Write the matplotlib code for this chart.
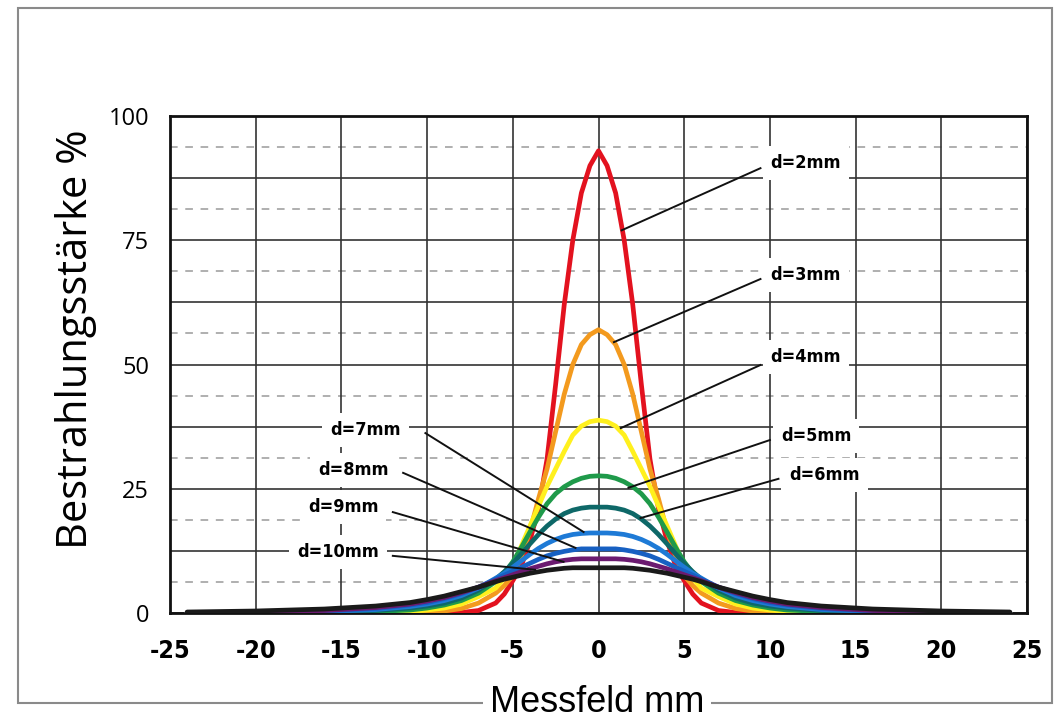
import numpy as np
import matplotlib.pyplot as plt
from matplotlib.patches import Rectangle

# Messfeld positions (mm), shared by all profiles
x_mm = [-24, -20, -16, -13, -11, -10, -9, -8, -7, -6, -5.5, -5, -4.5, -4, -3.5,
        -3, -2.5, -2, -1.5, -1, -0.5, 0, 0.5, 1, 1.5, 2, 2.5, 3, 3.5, 4, 4.5,
        5, 5.5, 6, 7, 8, 9, 10, 11, 13, 16, 20, 24]

# Bestrahlungsstaerke % for each distance d
d2 = [0, 0, 0, 0, 0, 0, 0, 0.1, 0.5, 2.0, 3.8, 6.5, 9.5, 14.5, 21,
      31, 46, 62, 75, 84.5, 90, 93, 90, 84.5, 75, 62, 46, 31, 21, 14.5, 9.5,
      6.5, 3.8, 2.0, 0.5, 0.1, 0, 0, 0, 0, 0, 0, 0]
d3 = [0, 0, 0, 0, 0.1, 0.2, 0.4, 0.9, 2, 4, 5.5, 7.5, 11.5, 16.5, 23,
      29, 36.5, 44, 50, 54, 56, 57, 56, 54, 50, 44, 36.5, 29, 23, 16.5, 11.5,
      7.5, 5.5, 4, 2, 0.9, 0.4, 0.2, 0.1, 0, 0, 0, 0]
d4 = [0, 0, 0, 0.1, 0.3, 0.6, 1, 1.8, 3.3, 5, 7, 9.5, 13.5, 17.5, 21.5,
      25.5, 29, 32.5, 35.8, 37.6, 38.5, 38.8, 38.5, 37.6, 35.8, 32.5, 29, 25.5, 21.5, 17.5, 13.5,
      9.5, 7, 5, 3.3, 1.8, 1, 0.6, 0.3, 0.1, 0, 0, 0]
d5 = [0, 0, 0.1, 0.3, 0.6, 1, 1.6, 2.5, 4, 6.3, 8, 10.3, 13.2, 16.3, 19.3,
      22, 24, 25.4, 26.4, 27.1, 27.5, 27.6, 27.5, 27.1, 26.4, 25.4, 24, 22, 19.3, 16.3, 13.2,
      10.3, 8, 6.3, 4, 2.5, 1.6, 1, 0.6, 0.3, 0.1, 0, 0]
d6 = [0, 0.1, 0.2, 0.5, 1, 1.4, 2, 3, 4.6, 6.8, 8.3, 10, 11.9, 13.9, 15.8,
      17.5, 18.9, 20, 20.7, 21.1, 21.3, 21.3, 21.3, 21.1, 20.7, 20, 18.9, 17.5, 15.8, 13.9, 11.9,
      10, 8.3, 6.8, 4.6, 3, 2, 1.4, 1, 0.5, 0.2, 0.1, 0]
d7 = [0, 0.1, 0.3, 0.7, 1.3, 1.8, 2.5, 3.5, 5, 7, 8, 9.2, 10.5, 11.8, 13,
      14, 14.8, 15.4, 15.8, 16, 16.1, 16.1, 16.1, 16, 15.8, 15.4, 14.8, 14, 13, 11.8, 10.5,
      9.2, 8, 7, 5, 3.5, 2.5, 1.8, 1.3, 0.7, 0.3, 0.1, 0]
d8 = [0, 0.15, 0.4, 0.9, 1.6, 2.1, 2.9, 3.9, 5.2, 6.8, 7.6, 8.4, 9.2, 10, 10.8,
      11.5, 12, 12.4, 12.7, 12.9, 12.9, 12.9, 12.9, 12.9, 12.7, 12.4, 12, 11.5, 10.8, 10, 9.2,
      8.4, 7.6, 6.8, 5.2, 3.9, 2.9, 2.1, 1.6, 0.9, 0.4, 0.15, 0]
d9 = [0.05, 0.2, 0.5, 1.1, 1.8, 2.4, 3.1, 4.1, 5.2, 6.5, 7.1, 7.7, 8.3, 8.9, 9.4,
      9.9, 10.3, 10.6, 10.8, 10.9, 10.9, 10.9, 10.9, 10.9, 10.8, 10.6, 10.3, 9.9, 9.4, 8.9, 8.3,
      7.7, 7.1, 6.5, 5.2, 4.1, 3.1, 2.4, 1.8, 1.1, 0.5, 0.2, 0.05]
d10 = [0.2, 0.4, 0.8, 1.4, 2.1, 2.7, 3.4, 4.3, 5.2, 6.3, 6.8, 7.2, 7.6, 8.0, 8.3,
       8.6, 8.8, 9.0, 9.1, 9.1, 9.1, 9.1, 9.1, 9.1, 9.1, 9.0, 8.8, 8.6, 8.3, 8.0, 7.6,
       7.2, 6.8, 6.3, 5.2, 4.3, 3.4, 2.7, 2.1, 1.4, 0.8, 0.4, 0.2]

profiles = [d2, d3, d4, d5, d6, d7, d8, d9, d10]
names = ["d=2mm", "d=3mm", "d=4mm", "d=5mm", "d=6mm",
         "d=7mm", "d=8mm", "d=9mm", "d=10mm"]
colors = ["#e3121f", "#f39a1e", "#fff01e", "#1f9a4a", "#0e6868",
          "#1e7ad6", "#1760c2", "#6b1a70", "#1a1a1a"]

# label text position, leader start, leader end (data coords)
label_pos = [(12.1, 90.5), (12.1, 68.0), (12.1, 51.5), (12.7, 35.6), (13.2, 27.8),
             (-13.6, 36.8), (-14.3, 28.8), (-14.9, 21.3), (-15.2, 12.3)]
leader_from = [(9.45, 89.5), (9.45, 67.2), (9.45, 49.9), (10.0, 34.8), (10.5, 27.0),
               (-10.1, 36.2), (-11.4, 28.2), (-12.0, 20.3), (-12.0, 11.5)]
leader_to = [(1.35, 77.0), (0.9, 54.5), (1.3, 37.2), (1.75, 25.2), (2.45, 19.1),
             (-0.87, 16.3), (-1.34, 13.1), (-2.04, 10.3), (-3.7, 8.7)]

x_ticks = [-25, -20, -15, -10, -5, 0, 5, 10, 15, 20, 25]
y_ticks = [0, 25, 50, 75, 100]

narrow = ["Liberation Sans Narrow", "DejaVu Sans"]

fig = plt.figure(figsize=(10.55, 7.23), dpi=100)
ax = fig.add_axes([170 / 1055, 110 / 723, 857 / 1055, 497 / 723])
ax.set_xlim(-25, 25)
ax.set_ylim(0, 100)

# grid: solid every 5 mm / 12.5 %, dashed in between
ax.set_xticks(x_ticks)
ax.set_xticklabels([str(v) for v in x_ticks], family=narrow, fontweight="bold",
                   fontstretch="condensed", fontsize=18)
ax.set_yticks(y_ticks)
ax.set_yticklabels([str(v) for v in y_ticks], family="Open Sans", fontsize=17)
ax.set_yticks([12.5, 37.5, 62.5, 87.5], minor=True)
ax.tick_params(axis="both", which="both", length=0)
ax.tick_params(axis="x", pad=19)
ax.tick_params(axis="y", pad=15)
ax.grid(axis="x", color="#333333", lw=1.2)
ax.grid(axis="y", which="both", color="#333333", lw=1.2)
for yy in np.arange(6.25, 100, 12.5):
    ax.axhline(yy, color="#9a9a9a", lw=1.1, ls=(0, (5, 5)), zorder=0.5)
ax.set_axisbelow(True)
for sp in ax.spines.values():
    sp.set_linewidth(2)
    sp.set_color("#111111")

for prof, col in zip(profiles, colors):
    ax.plot(x_mm, prof, color=col, lw=3.4, solid_capstyle="round", zorder=3)

for name, tp, p0, p1 in zip(names, label_pos, leader_from, leader_to):
    ax.plot([p0[0], p1[0]], [p0[1], p1[1]], color="#111111", lw=1.4, zorder=4)
    ax.text(tp[0], tp[1], name, ha="center", va="center", family=narrow,
            fontweight="bold", fontstretch="condensed", fontsize=13, zorder=2,
            bbox=dict(boxstyle="square,pad=0.45", fc="white", ec="none"))

ax.set_ylabel("Bestrahlungsstärke %", family="Open Sans", fontsize=30)
ax.yaxis.set_label_coords(-0.085, 0.551)
fig.text(597 / 1055, 1 - 703 / 723, "Messfeld mm", ha="center", va="center",
         family="Liberation Sans", fontsize=26,
         bbox=dict(boxstyle="square,pad=0.2", fc="white", ec="none"), zorder=5)

# scanned page frame
fig.patches.append(Rectangle((18 / 1055, 1 - 703 / 723), 1034 / 1055, 695 / 723,
                             transform=fig.transFigure, fill=False,
                             ec="#8a8a8a", lw=1.5, zorder=0))

fig.savefig("out.png", dpi=100)
